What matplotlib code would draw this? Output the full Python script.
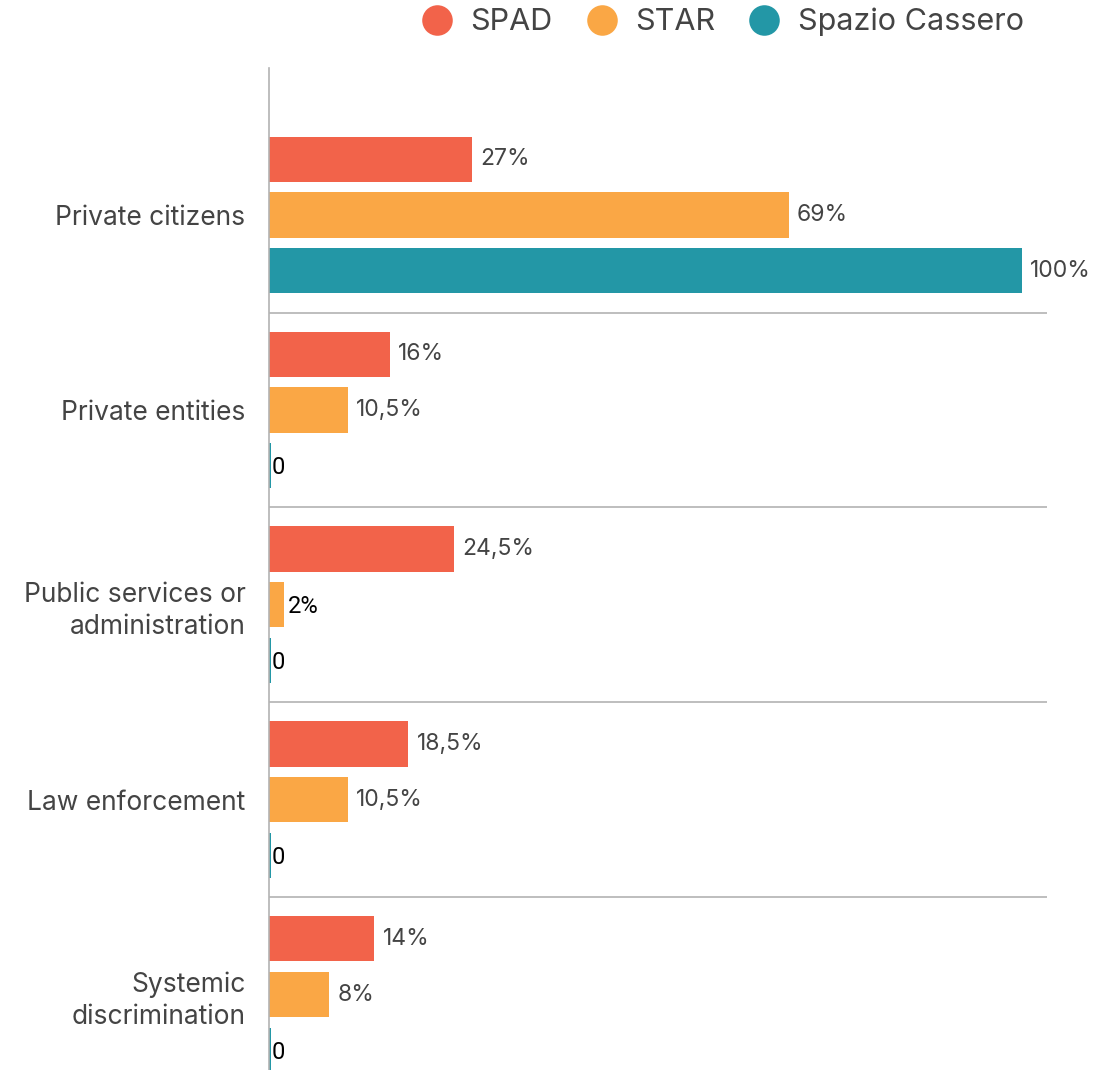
import matplotlib
matplotlib.use("Agg")
import matplotlib.pyplot as plt
from matplotlib.lines import Line2D

categories = ["Private citizens", "Private entities", "Public services or\nadministration",
              "Law enforcement", "Systemic\ndiscrimination"]
series_names = ["SPAD", "STAR", "Spazio Cassero"]
spad = [27, 16, 24.5, 18.5, 14]
star = [69, 10.5, 2, 10.5, 8]
cassero = [100, 0, 0, 0, 0]
spad_labels = ["27%", "16%", "24,5%", "18,5%", "14%"]
star_labels = ["69%", "10,5%", "2%", "10,5%", "8%"]
cassero_labels = ["100%", "0", "0", "0", "0"]

colors = ["#F2634A", "#FAA745", "#2397A6"]
FONT = "Inter"
TXT = "#444444"

fig = plt.figure(figsize=(11.03, 10.70), dpi=100)
ax = fig.add_axes([269/1103, 0, (1047-269)/1103, 1 - 68/1070])

offsets = [-0.287, 0, 0.287]
height = 0.231
all_vals = [spad, star, cassero]
all_labels = [spad_labels, star_labels, cassero_labels]
for s, (vals, labs, col, off) in enumerate(zip(all_vals, all_labels, colors, offsets)):
    for i, (v, lab) in enumerate(zip(vals, labs)):
        y = i + off
        w = v if v > 0 else 0.25
        ax.barh(y, w, height=height, color=col, edgecolor="none")
        if v > 0 and lab != "2%":
            ax.text(v + 1.1, y, lab, va="center", ha="left", fontsize=16.5,
                    color=TXT, family=FONT)
        else:
            ax.text(v + 0.45 if v > 0 else 0.4, y + 0.01, lab, va="center", ha="left",
                    fontsize=17, color="black", family="Roboto")

for k in range(len(categories) - 1):
    ax.axhline(k + 0.5, color="#b3b3b3", lw=1.2, zorder=0)

ax.set_xlim(0, 103.3)
ax.set_ylim(4.385, -0.754)
ax.set_yticks(range(len(categories)))
ax.set_yticklabels(categories, fontsize=19, color=TXT, family=FONT, linespacing=1.3)
ax.tick_params(axis="y", length=0, pad=17)
ax.set_xticks([])
for sp in ["top", "right", "bottom"]:
    ax.spines[sp].set_visible(False)
ax.spines["left"].set_color("#b3b3b3")
ax.spines["left"].set_linewidth(1.2)

handles = [Line2D([], [], marker="o", ls="none", markersize=22, color=c, markeredgewidth=0)
           for c in colors]
fig.legend(handles, series_names, loc="center right", bbox_to_anchor=(1024/1103, 1 - 22/1070),
           ncol=3, frameon=False, prop={"family": FONT, "size": 22},
           labelcolor=TXT, handlelength=1.0, handletextpad=0.6, columnspacing=1.1,
           borderaxespad=0.0, borderpad=0.0)

fig.savefig("out.png", dpi=100)
